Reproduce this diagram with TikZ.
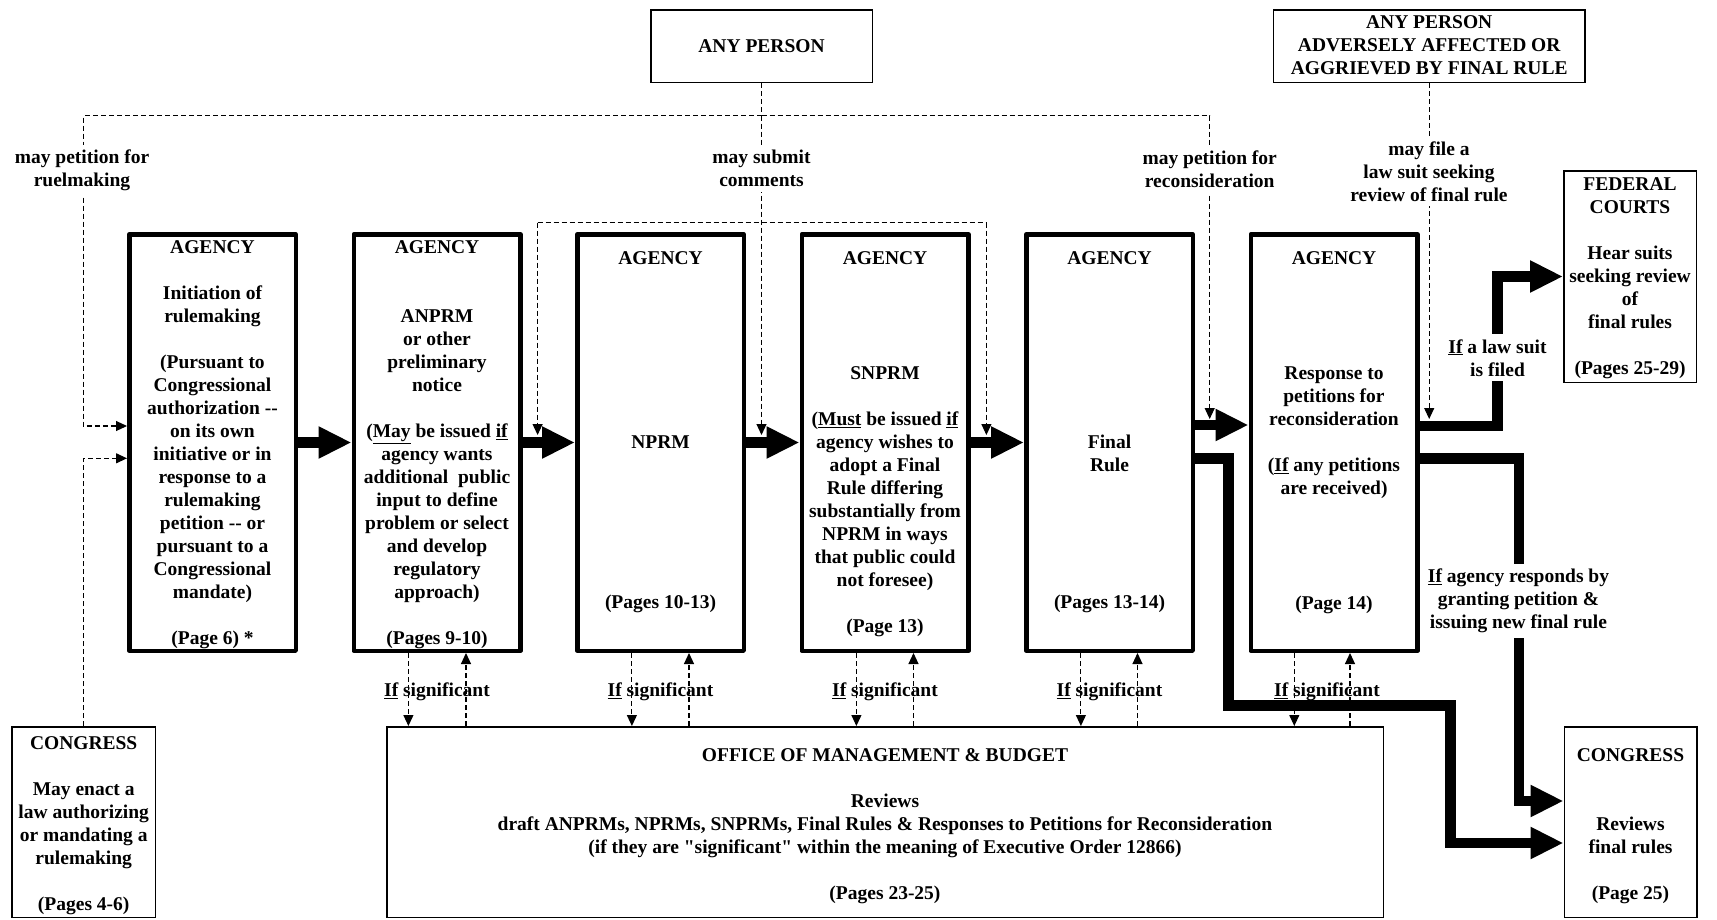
\documentclass[tikz,border=0pt]{standalone}
\usepackage{fontspec}
\setmainfont{Liberation Serif}[Ligatures=TeXOff]
\usetikzlibrary{arrows.meta,calc}
\begin{document}
\begin{tikzpicture}[x=1pt,y=-1pt,
 txt/.style={font=\bfseries\fontsize{19.5}{23}\selectfont, align=center, inner sep=0pt, anchor=north},
 lbl/.style={txt, fill=white, inner xsep=3pt, inner ysep=5pt},
 agbox/.style={draw, line width=4.5pt, line join=round, minimum width=166.5pt, minimum height=416.5pt, inner sep=0pt},
 thinbox/.style={draw, line width=1.5pt, inner sep=0pt},
 dline/.style={line width=1.1pt, dash pattern=on 5pt off 3pt},
 darrow/.style={dline, -{Triangle[length=11pt,width=10pt]}},
 bigarrow/.style={line width=10.7pt, -{Triangle[length=33pt,width=30pt]}}
]
\useasboundingbox (0,0) rectangle (1717,919);

% agency boxes
\node[agbox] (b1) at (212.5,442.5) {};
\node[agbox] (b2) at (437,442.5) {};
\node[agbox] (b3) at (660.5,442.5) {};
\node[agbox] (b4) at (885,442.5) {};
\node[agbox] (b5) at (1109.5,442.5) {};
\node[agbox] (b6) at (1334,442.5) {};

% thin boxes
\node[thinbox, txt, anchor=center, minimum width=221.5pt, minimum height=72.5pt] (ap) at (761.5,46) {ANY PERSON};
\node[thinbox, minimum width=311.5pt, minimum height=72.5pt] (aa) at (1429.2,46) {};
\node[thinbox, minimum width=132.5pt, minimum height=211.5pt] (fc) at (1630,276.5) {};
\node[thinbox, minimum width=132.5pt, minimum height=190.5pt] (cr) at (1630.5,822) {};
\node[thinbox, minimum width=143.8pt, minimum height=190.5pt] (cl) at (83.7,822) {};
\node[thinbox, minimum width=996.5pt, minimum height=190.5pt] (omb) at (885,822) {};

% texts of boxes
\node[txt] (aat) at (1429.2,15.2) {ANY PERSON\\ADVERSELY AFFECTED OR\\AGGRIEVED BY FINAL RULE};
\node[txt] (b1t) at (212.5,240.8) {AGENCY\\[23pt]Initiation of\\rulemaking\\[23pt](Pursuant to\\Congressional\\authorization -{}-\\on its own\\initiative or in\\response to a\\rulemaking\\petition -{}- or\\pursuant to a\\Congressional\\mandate)\\[23pt](Page 6) *};
\node[txt] (b2t) at (437,240.8) {AGENCY\\[46pt]ANPRM\\or other\\preliminary\\notice\\[23pt](\underline{May} be issued \underline{if}\\agency wants\\additional\ \ public\\input to define\\problem or select\\and develop\\regulatory\\approach)\\[23pt](Pages 9-10)};
\node[txt] (b3t) at (660.5,251.8) {AGENCY\\[161pt]NPRM\\[137pt](Pages 10-13)};
\node[txt] (b4t) at (885,251.8) {AGENCY\\[92pt]SNPRM\\[23pt](\underline{Must} be issued \underline{if}\\agency wishes to\\adopt a Final\\Rule differing\\substantially from\\NPRM in ways\\that public could\\not foresee)\\[23pt](Page 13)};
\node[txt] (b5t) at (1109.5,251.8) {AGENCY\\[161pt]Final\\Rule\\[114pt](Pages 13-14)};
\node[txt] (b6t) at (1334,251.8) {AGENCY\\[92pt]Response to\\petitions for\\reconsideration\\[23pt](\underline{If} any petitions\\are received)\\[92pt](Page 14)};
\node[txt] (fct) at (1630,177.5) {FEDERAL\\COURTS\\[23pt]Hear suits\\seeking review\\of\\final rules\\[23pt](Pages 25-29)};
\node[txt] (crt) at (1630.5,748.5) {CONGRESS\\[46pt]Reviews\\final rules\\[23pt](Page 25)};
\node[txt] (clt) at (83.7,736.8) {CONGRESS\\[23pt]May enact a\\law authorizing\\or mandating a\\rulemaking\\[23pt](Pages 4-6)};
\node[txt] (ombt) at (885,748.5) {OFFICE OF MANAGEMENT \& BUDGET\\[23pt]Reviews\\draft ANPRMs, NPRMs, SNPRMs, Final Rules \& Responses to Petitions for Reconsideration\\(if they are "significant" within the meaning of Executive Order 12866)\\[23pt](Pages 23-25)};

% dashed connectors
\coordinate (j1) at (761.5,115.7);
\coordinate (k0) at (83.3,426);
\coordinate (t5) at (1209.7,419);
\coordinate (c2) at (761.5,435);
\coordinate (br1) at (537.6,222.7);
\coordinate (br2) at (986.4,222.7);
\draw[dline] (ap.south) -- (j1);
\draw[darrow] (j1) -| (k0) -- ($(b1.west)+(0,-16.5)$);
\draw[darrow] (j1) -| (t5);
\draw[darrow] (j1) -- (c2);
\draw[dline] (br1) -- (br2);
\draw[darrow] (br1) -- (br1 |- c2);
\draw[darrow] (br2) -- (br2 |- c2);
\draw[darrow] (aa.south) -- (aa.south |- t5);
\draw[darrow] (cl.north) |- ($(b1.west)+(0,15.8)$);

\foreach \bx/\dx/\ux/\lx in {b2/-28.6/29/0, b3/-28.6/28.5/0, b4/-28.6/28.5/0, b5/-28.6/28/0, b6/-39.7/16/-7}{
  \path ($(\bx.south)+(\dx,0)$) coordinate (\bx dn);
  \path ($(\bx.south)+(\ux,0)$) coordinate (\bx up);
  \draw[darrow] (\bx dn) -- (\bx dn |- omb.north);
  \draw[darrow] (\bx up |- omb.north) -- (\bx up);
  \node[txt] (\bx sig) at ($(\bx.south)+(\lx,29.8)$) {\underline{If} significant};
}

% thick connectors
\coordinate (k1) at (1228.5,705.7);
\coordinate (k2) at (1450.8,843);
\coordinate (k3) at (1519,801);
\coordinate (k4) at (1497.5,276.5);
\draw[bigarrow] (b1.east) -- (b2.west);
\draw[bigarrow] (b2.east) -- (b3.west);
\draw[bigarrow] (b3.east) -- (b4.west);
\draw[bigarrow] (b4.east) -- (b5.west);
\draw[bigarrow] ($(b5.east)+(0,-17.5)$) -- ($(b6.west)+(0,-17.5)$);
\draw[bigarrow] ($(b5.east)+(0,15.8)$) -| (k1) -| (k2) -- ($(cr.west)+(0,21)$);
\draw[bigarrow] ($(b6.east)+(0,15.8)$) -| (k3) -- ($(cr.west)+(0,-21)$);
\draw[bigarrow] ($(b6.east)+(0,-16.5)$) -| (k4) -- (fc.west);

% labels
\node[lbl] (l1) at (82,145) {may petition for\\ruelmaking};
\node[lbl] (l2) at (761.5,145) {may submit\\comments};
\node[lbl] (l3) at (1209.7,146) {may petition for\\reconsideration};
\node[lbl] (l4) at (1429,136.3) {may file a\\law suit seeking\\review of final rule};
\node[lbl] (l5) at (1497.5,334.2) {\underline{If} a law suit\\is filed};
\node[lbl] (l6) at (1518.5,563.5) {\underline{If} agency responds by\\granting petition \&\\issuing new final rule};
\end{tikzpicture}
\end{document}
